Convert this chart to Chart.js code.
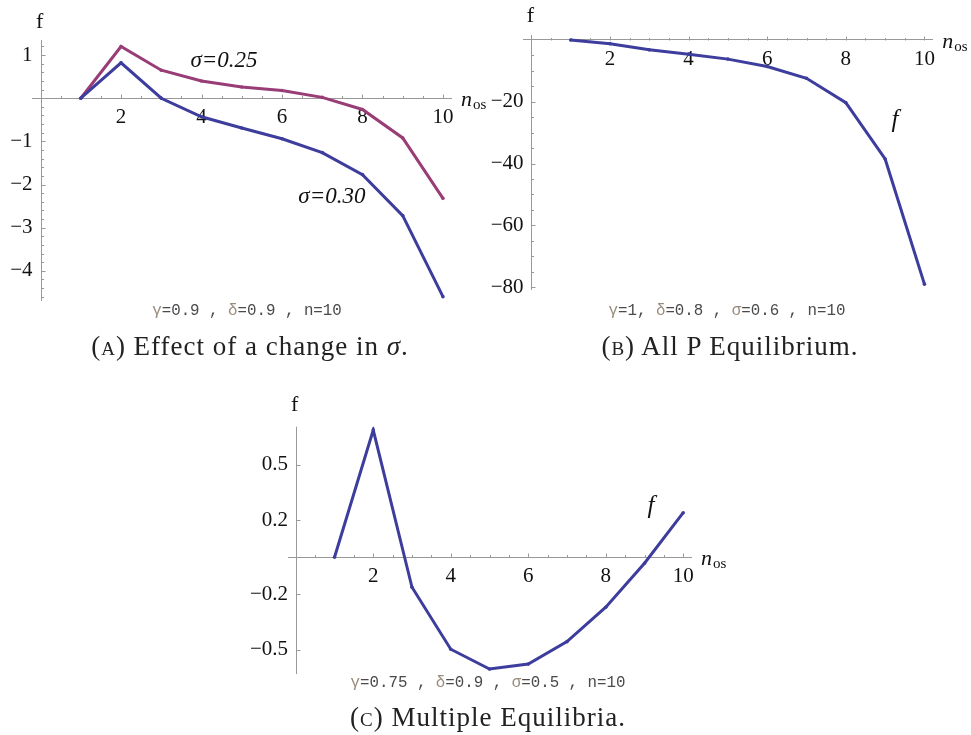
<!DOCTYPE html>
<html>
<head>
<meta charset="utf-8">
<script src="https://cdn.jsdelivr.net/npm/chart.js@4.4.0/dist/chart.umd.min.js"></script>
<style>
  body { margin: 0; background: #fff; width: 971px; height: 735px; position: relative; overflow: hidden; }
  canvas { position: absolute; }
  .params { position: absolute; font-family: 'Liberation Mono', monospace; font-size: 15.8px; color: #4a4a4a; white-space: pre; transform: translateX(-50%); }
  .params .g { color: #9a8c7c; }
  .cap { position: absolute; font-family: 'Liberation Serif', serif; font-size: 27px; letter-spacing: 1px; color: #222; white-space: nowrap; transform: translateX(-50%); }
  .sc { font-variant: small-caps; }
</style>
</head>
<body>
<canvas id="chartA" width="500" height="330" style="left:0;top:0"></canvas>
<canvas id="chartB" width="501" height="330" style="left:470px;top:0"></canvas>
<canvas id="chartC" width="490" height="310" style="left:240px;top:380px"></canvas>

<div class="params" style="left:247px;top:302px"><span class="g">γ</span>=0.9 , <span class="g">δ</span>=0.9 , n=10</div>
<div class="cap" style="left:250px;top:331px">(<span class="sc">a</span>) Effect of a change in <i>σ</i>.</div>

<div class="params" style="left:727px;top:302px"><span class="g">γ</span>=1, <span class="g">δ</span>=0.8 , <span class="g">σ</span>=0.6 , n=10</div>
<div class="cap" style="left:730px;top:331px">(<span class="sc">b</span>) All P Equilibrium.</div>

<div class="params" style="left:488px;top:674px"><span class="g">γ</span>=0.75 , <span class="g">δ</span>=0.9 , <span class="g">σ</span>=0.5 , n=10</div>
<div class="cap" style="left:488px;top:702px">(<span class="sc">c</span>) Multiple Equilibria.</div>

<script>
// data
const nos = [1, 2, 3, 4, 5, 6, 7, 8, 9, 10];
const fSigma025 = [0, 1.2, 0.65, 0.40, 0.26, 0.18, 0.02, -0.26, -0.92, -2.32];
const fSigma030 = [0, 0.82, 0, -0.43, -0.69, -0.94, -1.26, -1.77, -2.72, -4.6];
const fAllP = [0, -1.2, -3.2, -4.6, -6.2, -8.6, -12.4, -20.3, -38.5, -79];
const fMulti = [0, 0.688, -0.162, -0.497, -0.604, -0.577, -0.456, -0.27, -0.032, 0.241];

const xTicks = [2, 4, 6, 8, 10];
const yTicksA = [1, -1, -2, -3, -4];
const yTicksB = [-20, -40, -60, -80];
const yTicksC = [0.5, 0.2, -0.2, -0.5];

const BLUE = '#3d3d9e';
const PURPLE = '#993d77';
const AXIS = '#999';
const tickFont = { family: 'Liberation Serif', size: 21 };

const pts = vals => nos.map((n, i) => ({ x: n, y: vals[i] }));
const fmt = v => (v < 0 ? '\u2212' + String(-v) : String(v));

function series(vals, color) {
  return {
    data: pts(vals), borderColor: color, backgroundColor: color,
    borderWidth: 3, pointRadius: 1.8, pointBorderWidth: 0, tension: 0
  };
}

/* axis line, tick marks, axis titles and curve labels in Mathematica style */
const axesDeco = {
  id: 'axesDeco',
  beforeDatasetsDraw(chart, args, o) {
    const { ctx, chartArea: a, scales: { x, y } } = chart;
    const x0 = Math.round(x.getPixelForValue(0)) + 0.5;
    const y0 = Math.round(y.getPixelForValue(0)) + 0.5;
    ctx.save();
    ctx.strokeStyle = AXIS;
    ctx.lineWidth = 1;
    ctx.beginPath();
    ctx.moveTo(x0, a.top); ctx.lineTo(x0, a.bottom);
    // x ticks point up
    const xs = o.xMinor;
    for (let k = 1; k * xs <= x.max; k++) {
      const v = k * xs;
      const major = xTicks.some(t => Math.abs(t - v) < 1e-6);
      const px = Math.round(x.getPixelForValue(v)) + 0.5;
      ctx.moveTo(px, y0); ctx.lineTo(px, y0 - (major ? 4 : 2.5));
    }
    // y ticks point right
    o.yMajor.forEach(v => {
      const py = Math.round(y.getPixelForValue(v)) + 0.5;
      ctx.moveTo(x0, py); ctx.lineTo(x0 + 4, py);
    });
    if (o.yMinor) {
      const s = o.yMinor;
      for (let k = Math.ceil(y.min / s); k * s <= y.max; k++) {
        const v = k * s;
        if (k === 0 || o.yMajor.some(t => Math.abs(t - v) < 1e-6)) continue;
        const py = Math.round(y.getPixelForValue(v)) + 0.5;
        ctx.moveTo(x0, py); ctx.lineTo(x0 + 2.5, py);
      }
    }
    ctx.stroke();
    ctx.restore();
  },
  afterDraw(chart, args, o) {
    const { ctx, chartArea: a, scales: { x, y } } = chart;
    const x0 = x.getPixelForValue(0);
    const y0 = y.getPixelForValue(0);
    ctx.save();
    ctx.fillStyle = '#111';
    ctx.textAlign = 'center';
    ctx.textBaseline = 'alphabetic';
    ctx.font = '22px "Liberation Serif"';
    ctx.fillText('f', x0 - 1, a.top - o.fGap);
    ctx.textAlign = 'left';
    ctx.font = 'italic 22px "Liberation Serif"';
    const nx = a.right + 10, ny = y0 + 8;
    ctx.fillText('n', nx, ny);
    const nw = ctx.measureText('n').width;
    ctx.font = '15px "Liberation Serif"';
    ctx.fillText('os', nx + nw + 1, ny + 3);
    ctx.textAlign = 'center';
    ctx.textBaseline = 'middle';
    o.labels.forEach(l => {
      ctx.font = 'italic ' + l.size + 'px "Liberation Serif"';
      ctx.fillText(l.text, x.getPixelForValue(l.x), y.getPixelForValue(l.y));
    });
    ctx.restore();
  }
};

function panel(id, datasets, o) {
  return new Chart(document.getElementById(id), {
    type: 'line',
    data: { datasets },
    plugins: [axesDeco],
    options: {
      responsive: false, animation: false,
      layout: { padding: o.pad },
      plugins: { legend: { display: false }, tooltip: { enabled: false }, axesDeco: o.deco },
      scales: {
        x: {
          type: 'linear', min: -0.2, max: 10.2, position: { y: 0 },
          afterFit: s => { s.height = 0; },
          afterBuildTicks: s => { s.ticks = xTicks.map(v => ({ value: v })); },
          grid: { display: false, drawTicks: false },
          border: { display: true, color: AXIS, width: 1 },
          ticks: { font: tickFont, color: '#111', padding: 7, maxRotation: 0, autoSkip: false }
        },
        y: {
          type: 'linear', min: o.ymin, max: o.ymax, position: 'left',
          afterFit: s => { s.width = o.yWidth; },
          afterBuildTicks: s => { s.ticks = o.deco.yMajor.map(v => ({ value: v })); },
          grid: { display: false, drawTicks: false },
          border: { display: false },
          ticks: { font: tickFont, color: '#111', padding: 0, autoSkip: false, callback: fmt }
        }
      }
    }
  });
}

panel('chartA', [series(fSigma030, BLUE), series(fSigma025, PURPLE)], {
  ymin: -4.7, ymax: 1.35, yWidth: 32.5,
  pad: { left: 0, right: 49, top: 40, bottom: 29 },
  deco: {
    xMinor: 0.5, yMinor: 0.2, yMajor: yTicksA, fGap: 12,
    labels: [
      { text: 'σ=0.25', x: 4.56, y: 0.86, size: 23 },
      { text: 'σ=0.30', x: 7.24, y: -2.29, size: 23 }
    ]
  }
});

panel('chartB', [series(fAllP, BLUE)], {
  ymin: -80.9, ymax: 1.6, yWidth: 53.5,
  pad: { left: 0, right: 38.7, top: 35, bottom: 40 },
  deco: {
    xMinor: 0.5, yMinor: 5, yMajor: yTicksB, fGap: 13,
    labels: [{ text: 'f', x: 9.25, y: -25.9, size: 25 }]
  }
});

panel('chartC', [series(fMulti, BLUE)], {
  ymin: -0.631, ymax: 0.706, yWidth: 48,
  pad: { left: 0, right: 39, top: 46.7, bottom: 16 },
  deco: {
    xMinor: 0.5, yMinor: 0, yMajor: yTicksC, fGap: 16,
    labels: [{ text: 'f', x: 9.17, y: 0.277, size: 25 }]
  }
});
</script>
</body>
</html>
